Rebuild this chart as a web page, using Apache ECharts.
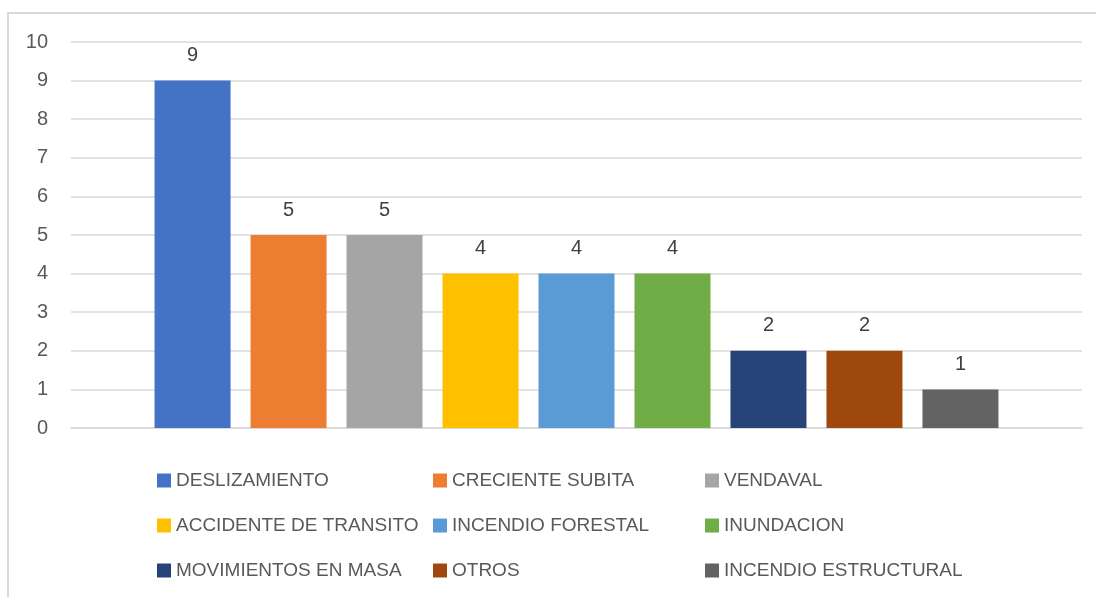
<!DOCTYPE html>
<html lang="es">
<head>
  <meta charset="UTF-8">
  <title>Eventos</title>
  <script src="https://cdn.jsdelivr.net/npm/echarts@6/dist/echarts.min.js"></script>
  <style>
    html, body { margin: 0; padding: 0; background: #fff; overflow: hidden; }
    #marco { position: absolute; left: 7px; top: 12px; width: 1200px; height: 700px; border: 2px solid #d9d9d9; }
    #grafico { position: absolute; left: 0; top: 0; width: 1096px; height: 597px; }
  </style>
</head>
<body>
<div id="marco"></div>
<div id="grafico"></div>
<script type="text/javascript">
  // datos
  var eventos = ['DESLIZAMIENTO', 'CRECIENTE SUBITA', 'VENDAVAL',
    'ACCIDENTE DE TRANSITO', 'INCENDIO FORESTAL', 'INUNDACION',
    'MOVIMIENTOS EN MASA', 'OTROS', 'INCENDIO ESTRUCTURAL'];
  var cantidades = [9, 5, 5, 4, 4, 4, 2, 2, 1];
  var colores = ['#4472C4', '#ED7D31', '#A5A5A5', '#FFC000', '#5B9BD5',
    '#70AD47', '#264478', '#9E480E', '#636363'];
  var yTicks = [0, 1, 2, 3, 4, 5, 6, 7, 8, 9, 10];

  var fuente = '"Liberation Sans", Arial, sans-serif';
  var myChart = echarts.init(document.getElementById('grafico'));

  var series = [];
  for (let i = 0; i < eventos.length; i++) {
    series.push({
      name: eventos[i],
      type: 'bar',
      data: [cantidades[i]],
      itemStyle: { color: colores[i] },
      barWidth: 76,
      barGap: '26.3%',
      label: {
        show: true,
        position: 'top',
        distance: 15,
        color: '#404040',
        fontSize: 20,
        fontFamily: fuente
      }
    });
  }

  // leyenda en tres columnas
  var columnasLeft = [157, 433, 705];
  var legends = [];
  for (let c = 0; c < 3; c++) {
    var datos = [];
    for (let r = 0; r < 3; r++) datos.push(eventos[r * 3 + c]);
    legends.push({
      data: datos,
      orient: 'vertical',
      left: columnasLeft[c],
      top: 471,
      icon: 'rect',
      itemWidth: 14,
      itemHeight: 14,
      itemGap: 26,
      padding: 0,
      selectedMode: false,
      textStyle: { color: '#595959', fontSize: 19, fontFamily: fuente }
    });
  }

  var option = {
    animation: false,
    backgroundColor: 'transparent',
    grid: { left: 71, right: 14, top: 42, bottom: 169 },
    legend: legends,
    xAxis: {
      type: 'category',
      data: [''],
      axisLine: { lineStyle: { color: '#d9d9d9', width: 1.5 } },
      axisTick: { show: false },
      axisLabel: { show: false }
    },
    yAxis: {
      type: 'value',
      min: yTicks[0],
      max: yTicks[yTicks.length - 1],
      interval: 1,
      axisLine: { show: false },
      axisTick: { show: false },
      axisLabel: { color: '#595959', fontSize: 20, fontFamily: fuente, margin: 23 },
      splitLine: { lineStyle: { color: '#d9d9d9', width: 1.5 } }
    },
    series: series
  };
  myChart.setOption(option);
</script>
</body>
</html>
